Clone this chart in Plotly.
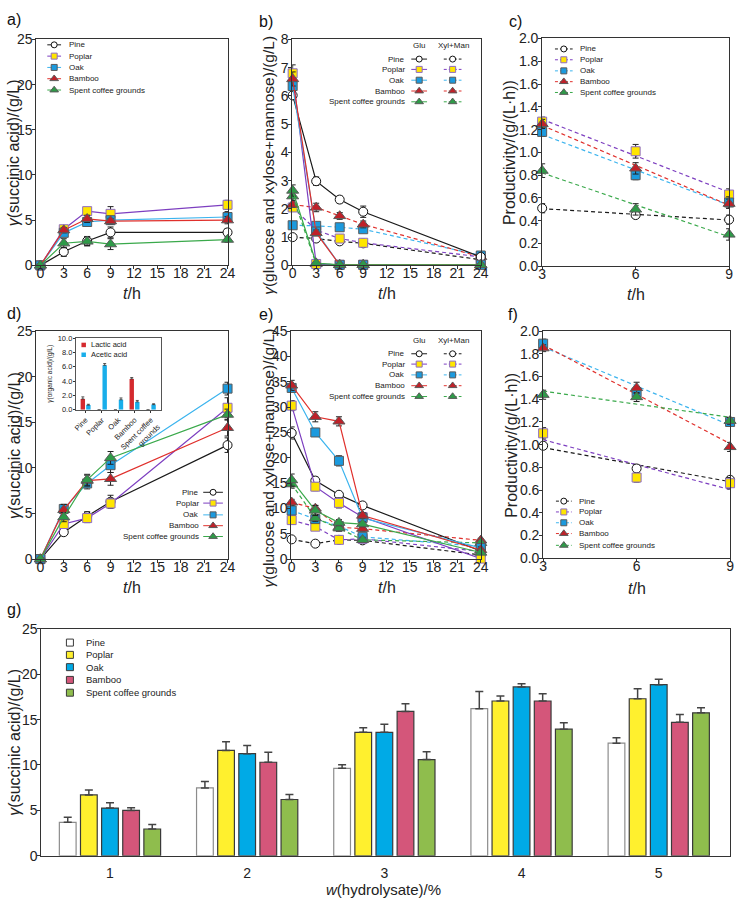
import numpy as np
import plotly.graph_objects as go

W, H = 743, 906
FONT = "Liberation Sans, Arial, Helvetica, sans-serif"

# ---------------- data ----------------
species = ["Pine", "Poplar", "Oak", "Bamboo", "Spent coffee grounds"]
time_h = [0, 3, 6, 9, 24]
time_prod = [3, 6, 9]
conc_pct = [1, 2, 3, 4, 5]
inset_labels = ["Pine", "Poplar", "Oak", "Bamboo", "Spent coffee<br>grounds"]

# a) succinic acid, 1 % hydrolysate
a_succ = [[0, 1.5, 2.7, 3.65, 3.65],
          [0, 4.0, 6.0, 5.7, 6.7],
          [0, 3.6, 4.8, 5.0, 5.35],
          [0, 3.9, 5.15, 4.9, 5.0],
          [0, 2.45, 2.65, 2.35, 2.85]]
a_err = [[0, 0.5, 0.5, 0.6, 0.4],
         [0, 0.35, 0.4, 0.8, 0.5],
         [0, 0.4, 0.5, 0.4, 0.6],
         [0, 0.3, 0.4, 0.3, 0.4],
         [0, 0.5, 0.5, 0.6, 0.3]]

# b) sugars, 1 % hydrolysate
b_glu = [[6.02, 2.98, 2.33, 1.9, 0.3],
         [6.8, 0.05, 0.02, 0.02, 0.02],
         [6.35, 1.2, 0.02, 0.02, 0.02],
         [6.6, 1.15, 0.02, 0.02, 0.02],
         [2.65, 0.08, 0.02, 0.02, 0.02]]
b_glu_err = [[0.15, 0.15, 0.12, 0.2, 0.1],
             [0.3, 0.05, 0.02, 0.02, 0.02],
             [0.2, 0.1, 0.02, 0.02, 0.02],
             [0.25, 0.1, 0.02, 0.02, 0.02],
             [0.2, 0.05, 0.02, 0.02, 0.02]]
b_xyl = [[1.0, 0.95, 0.85, 0.78, 0.2],
         [2.05, 1.25, 0.95, 0.8, 0.3],
         [1.42, 1.4, 1.35, 1.28, 0.35],
         [2.15, 2.05, 1.75, 1.45, 0.3],
         [2.45, 0.05, 0.02, 0.02, 0.02]]
b_xyl_err = [[0.08, 0.08, 0.1, 0.1, 0.05],
             [0.1, 0.1, 0.12, 0.1, 0.1],
             [0.08, 0.1, 0.1, 0.1, 0.1],
             [0.1, 0.15, 0.12, 0.12, 0.1],
             [0.15, 0.03, 0.02, 0.02, 0.02]]

# c) productivity, 1 % hydrolysate
c_prod = [[0.51, 0.45, 0.41],
          [1.27, 1.01, 0.63],
          [1.18, 0.80, 0.56],
          [1.25, 0.86, 0.55],
          [0.84, 0.50, 0.28]]
c_err = [[0.04, 0.03, 0.04],
         [0.04, 0.06, 0.05],
         [0.04, 0.04, 0.05],
         [0.04, 0.05, 0.04],
         [0.06, 0.05, 0.05]]

# d) succinic acid, 5 % hydrolysate
d_succ = [[0, 2.95, 4.7, 6.3, 12.5],
          [0, 3.85, 4.5, 6.1, 16.6],
          [0, 5.5, 8.3, 10.3, 18.7],
          [0, 5.4, 8.6, 8.8, 14.4],
          [0, 4.6, 8.7, 11.1, 15.85]]
d_err = [[0, 0.3, 0.5, 0.7, 0.8],
         [0, 0.4, 0.5, 0.5, 1.1],
         [0, 0.5, 0.6, 0.8, 0.7],
         [0, 0.6, 0.6, 0.7, 0.9],
         [0, 0.5, 0.6, 0.7, 0.6]]

# d) inset: organic acids
inset_lactic = [1.5, 0, 0, 4.3, 0]
inset_lactic_err = [0.3, 0, 0, 0.2, 0]
inset_acetic = [0.65, 6.2, 1.4, 1.1, 0.72]
inset_acetic_err = [0.12, 0.25, 0.25, 0.2, 0.12]

# e) sugars, 5 % hydrolysate
e_glu = [[24.9, 15.5, 12.7, 10.6, 1.6],
         [30.3, 14.3, 11.1, 8.3, 0.1],
         [33.8, 25.0, 19.4, 8.1, 2.2],
         [34.3, 28.1, 27.2, 8.6, 1.8],
         [15.6, 9.6, 7.2, 6.9, 1.3]]
e_glu_err = [[1.2, 0.7, 0.5, 0.6, 0.4],
             [1.0, 0.8, 1.0, 0.6, 0.3],
             [0.8, 0.8, 1.0, 0.6, 0.5],
             [1.0, 1.0, 0.9, 0.6, 0.6],
             [1.2, 1.0, 0.6, 0.5, 0.4]]
e_xyl = [[3.9, 3.05, 3.8, 3.7, 0.8],
         [7.7, 6.4, 3.8, 4.0, 1.5],
         [9.6, 7.9, 6.5, 4.4, 2.5],
         [11.2, 10.0, 6.3, 6.0, 3.7],
         [14.8, 8.1, 6.1, 3.8, 3.2]]
e_xyl_err = [[0.5, 0.4, 0.5, 0.4, 0.3],
             [0.8, 0.6, 0.5, 0.4, 0.3],
             [0.6, 0.6, 0.5, 0.5, 0.4],
             [0.6, 0.6, 0.5, 0.5, 0.4],
             [0.8, 0.7, 0.6, 0.5, 0.4]]

# f) productivity, 5 % hydrolysate
f_prod = [[0.99, 0.79, 0.69],
          [1.10, 0.71, 0.66],
          [1.89, 1.46, 1.20],
          [1.85, 1.50, 0.98],
          [1.44, 1.42, 1.21]]
f_err = [[0.03, 0.03, 0.03],
         [0.05, 0.04, 0.05],
         [0.04, 0.05, 0.04],
         [0.03, 0.05, 0.04],
         [0.04, 0.04, 0.03]]

# g) succinic acid vs hydrolysate loading
g_pine = [3.68, 7.47, 9.63, 16.2, 12.4]
g_poplar = [6.7, 11.6, 13.6, 17.05, 17.3]
g_oak = [5.25, 11.25, 13.6, 18.6, 18.85]
g_bamboo = [5.0, 10.3, 15.9, 17.05, 14.7]
g_scg = [2.95, 6.2, 10.6, 13.95, 15.75]
g_pine_err = [0.55, 0.7, 0.4, 1.9, 0.6]
g_poplar_err = [0.55, 0.95, 0.5, 0.55, 1.1]
g_oak_err = [0.6, 0.9, 0.9, 0.35, 0.6]
g_bamboo_err = [0.3, 1.1, 0.85, 0.8, 0.85]
g_scg_err = [0.5, 0.55, 0.85, 0.7, 0.55]

# ---------------- styles ----------------
LINE_COL = ["#1a1a1a", "#7d3fc0", "#3cb4ee", "#e0302c", "#3aa94b"]
FILL = ["#ffffff", "#ffe600", "#1b9ade", "#bf2129", "#2e9a48"]
EDGE = ["#111111", "#8e6cc4", "#5a5a5a", "#5a5a5a", "#5a5a5a"]
SYMB = ["circle", "square", "square", "triangle-up", "triangle-up"]
BAR_FILL = ["#ffffff", "#fff02e", "#00aae6", "#d4567a", "#8fbd4d"]
BAR_EDGE = ["#8c8c8c", "#3a3a3a", "#3a3a3a", "#3a3a3a", "#3a3a3a"]
DASH = "4px,3px"
ERR_COL = "#222222"


def xdom(p0, p1):
    return [p0 / W, p1 / W]


def ydom(top, bottom):
    return [1 - bottom / H, 1 - top / H]


def axref(n):
    return ("x" if n == 1 else f"x{n}"), ("y" if n == 1 else f"y{n}")


base_axis = dict(showline=True, linecolor="#333333", linewidth=1, mirror=True,
                 ticks="outside", ticklen=3, tickwidth=1, tickcolor="#333333",
                 showgrid=False, zeroline=False, fixedrange=True,
                 tickfont=dict(family=FONT, size=14, color="#222222"))

layout_axes = {}


def add_axes(n, px, py, xr, yr, xkw=None, ykw=None):
    xa, ya = axref(n)
    xname = "xaxis" if n == 1 else f"xaxis{n}"
    yname = "yaxis" if n == 1 else f"yaxis{n}"
    xd = dict(base_axis, domain=xdom(*px), range=xr, anchor=ya, ticklabelstandoff=-8)
    xd.update(xkw or {})
    yd = dict(base_axis, domain=ydom(*py), range=yr, anchor=xa, ticklabelstandoff=-3)
    yd.update(ykw or {})
    layout_axes[xname] = xd
    layout_axes[yname] = yd


time_ticks = dict(tickmode="array", tickvals=[0, 3, 6, 9, 12, 15, 18, 21, 24])
prod_x = dict(tickmode="array", tickvals=[3, 6, 9])
prod_y = dict(tickmode="linear", tick0=0, dtick=0.2, tickformat=".1f")

add_axes(1, (33, 228), (32, 262), [-0.5, 24.1], [0, 25], time_ticks, dict(dtick=5, tick0=0))
add_axes(2, (293, 485), (32, 262), [-0.05, 24.05], [0, 8], time_ticks, dict(dtick=1, tick0=0))
add_axes(3, (547, 737), (31, 263), [3, 9], [0, 2], prod_x, prod_y)
add_axes(4, (33, 228), (329, 561), [-0.5, 24.1], [0, 25], time_ticks, dict(dtick=5, tick0=0))
small = dict(family=FONT, size=7.5, color="#222222")
add_axes(5, (73, 160), (336, 409), [-0.6, 4.65], [0, 10],
         dict(tickmode="array", tickvals=list(range(5)), ticktext=inset_labels,
              tickangle=-45, tickfont=small, ticklen=2, linecolor="#555555",
              ticklabelstandoff=0),
         dict(dtick=2, tick0=0, tickformat=".1f", tickfont=small, ticklen=2,
              linecolor="#555555", ticklabelstandoff=-1))
add_axes(6, (292, 485), (329, 561), [-0.05, 24.05], [0, 45], time_ticks, dict(dtick=5, tick0=0))
add_axes(7, (548, 738), (329, 560), [3, 9], [0, 2], prod_x, prod_y)
add_axes(8, (38, 738), (632, 863), [0.5, 5.52], [0, 25],
         dict(tickmode="array", tickvals=conc_pct, ticks="", ticklabelstandoff=4),
         dict(dtick=5, tick0=0))
# overlay axis in pixel units for legends and labels
layout_axes["xaxis9"] = dict(domain=[0, 1], range=[0, W], visible=False, fixedrange=True, anchor="y9")
layout_axes["yaxis9"] = dict(domain=[0, 1], range=[H, 0], visible=False, fixedrange=True, anchor="x9")

traces = []


def marker(i, size):
    extra = 1.5 if SYMB[i].startswith("triangle") else 0
    return dict(symbol=SYMB[i], size=size + extra, color=FILL[i],
                line=dict(color=EDGE[i], width=1))


def err(arr):
    return dict(type="data", array=arr, color=ERR_COL, thickness=1, width=3)


def time_series(n, ys, errs, dash=None):
    xa, ya = axref(n)
    for i in range(len(species)):
        traces.append(go.Scatter(
            x=time_h, y=ys[i], mode="lines+markers",
            line=dict(color=LINE_COL[i], width=1.2, dash=dash),
            marker=marker(i, 9), error_y=err(errs[i]), cliponaxis=False,
            xaxis=xa, yaxis=ya, showlegend=False, name=species[i]))


def prod_series(n, ys, errs):
    xa, ya = axref(n)
    for i in range(len(species)):
        k, b0 = np.polyfit(time_prod, ys[i], 1)
        xs = [time_prod[0], time_prod[-1]]
        traces.append(go.Scatter(
            x=xs, y=[k * v + b0 for v in xs], mode="lines",
            line=dict(color=LINE_COL[i], width=1.2, dash=DASH),
            cliponaxis=False, xaxis=xa, yaxis=ya, showlegend=False, hoverinfo="skip"))
    for i in range(len(species)):
        traces.append(go.Scatter(
            x=time_prod, y=ys[i], mode="markers", marker=marker(i, 9),
            error_y=err(errs[i]), cliponaxis=False,
            xaxis=xa, yaxis=ya, showlegend=False, name=species[i]))


time_series(1, a_succ, a_err)
time_series(2, b_xyl, b_xyl_err, dash=DASH)
time_series(2, b_glu, b_glu_err)
prod_series(3, c_prod, c_err)
time_series(4, d_succ, d_err)
time_series(6, e_xyl, e_xyl_err, dash=DASH)
time_series(6, e_glu, e_glu_err)
prod_series(7, f_prod, f_err)

# inset bars
BW_IN = 0.27
for vals, errs, col, off in [(inset_lactic, inset_lactic_err, "#d42a2e", -0.17),
                             (inset_acetic, inset_acetic_err, "#19aeea", 0.17)]:
    traces.append(go.Bar(
        x=list(range(5)), y=vals, width=BW_IN, offset=off - BW_IN / 2,
        marker=dict(color=col, line=dict(width=0)),
        error_y=dict(type="data", array=errs, arrayminus=[0] * 5, symmetric=False,
                     color="#333333", thickness=0.8, width=1.5),
        xaxis="x5", yaxis="y5", showlegend=False))

# g bars
g_vals = [g_pine, g_poplar, g_oak, g_bamboo, g_scg]
g_errs = [g_pine_err, g_poplar_err, g_oak_err, g_bamboo_err, g_scg_err]
SLOT, BW = 0.154, 0.122
for i in range(5):
    centre = (i - 2) * SLOT
    traces.append(go.Bar(
        x=conc_pct, y=g_vals[i], width=BW, offset=centre - BW / 2,
        marker=dict(color=BAR_FILL[i], line=dict(color=BAR_EDGE[i], width=1.2)),
        error_y=dict(type="data", array=g_errs[i], arrayminus=[0] * 5, symmetric=False,
                     color="#444444", thickness=1.5, width=4),
        xaxis="x8", yaxis="y8", showlegend=False, name=species[i]))

# ---------------- legends & text (pixel overlay) ----------------
ann = []
LEG = 8


def text(x, y, s, size=LEG, anchor="left", angle=0, color="#222222"):
    ann.append(dict(x=x, y=y, xref="x9", yref="y9", text=s, showarrow=False,
                    xanchor=anchor, yanchor="middle", textangle=angle,
                    font=dict(family=FONT, size=size, color=color)))


def glyph(cx, y, i, half, dash=None, msize=6):
    traces.append(go.Scatter(x=[cx - half, cx + half], y=[y, y], mode="lines",
                             line=dict(color=LINE_COL[i], width=1, dash=dash),
                             xaxis="x9", yaxis="y9", showlegend=False, hoverinfo="skip"))
    traces.append(go.Scatter(x=[cx], y=[y], mode="markers", marker=marker(i, msize),
                             xaxis="x9", yaxis="y9", showlegend=False, hoverinfo="skip"))


# a) legend
for i, yy in enumerate([37.5, 49, 60.5, 72, 83.5]):
    glyph(51, yy, i, 7)
    text(64, yy, species[i])
# c) legend
for i, yy in enumerate([41.7, 52.7, 64, 75, 86]):
    glyph(569, yy, i, 9, dash="3px,2px")
    text(583, yy, species[i])
# f) legend
for i, yy in enumerate([502, 513, 524, 535, 547]):
    glyph(569, yy, i, 8, dash="3px,2px")
    text(582, yy, species[i])
# b) and e) legends
for top in (0, 300):
    text(422, 38 + top, "Glu", anchor="center")
    text(457, 38 + top, "Xyl+Man", anchor="center")
    for i, yy in enumerate([52, 62.5, 73.5, 84.5, 95.5]):
        glyph(422, yy + top, i, 8)
        glyph(456, yy + top, i, 9, dash="3px,2px")
        text(410, yy + top, species[i], anchor="right")
# d) legend
for i, yy in enumerate([493, 504, 516, 527, 538]):
    glyph(212.5, yy, i, 10)
    text(200, yy, species[i], anchor="right")
# g) legend
for i, yy in enumerate([646, 658.5, 671, 684, 697]):
    traces.append(go.Scatter(x=[67], y=[yy], mode="markers",
                             marker=dict(symbol="square", size=7, color=BAR_FILL[i],
                                         line=dict(color="#3a3a3a", width=1)),
                             xaxis="x9", yaxis="y9", showlegend=False, hoverinfo="skip"))
    text(81, yy, species[i], size=9.5)
# inset legend
for yy, col, s in [(343, "#d42a2e", "Lactic acid"), (353, "#19aeea", "Acetic acid")]:
    traces.append(go.Scatter(x=[81], y=[yy], mode="markers",
                             marker=dict(symbol="square", size=4.5, color=col, line=dict(width=0)),
                             xaxis="x9", yaxis="y9", showlegend=False, hoverinfo="skip"))
    text(86, yy, s, size=7.5)

# panel labels
for lbl, x, y in [("a)", 1, 12), ("b)", 257, 14), ("c)", 511, 14),
                  ("d)", 1, 311), ("e)", 257, 312), ("f)", 510, 312), ("g)", 1, 612)]:
    text(x, y, lbl, size=16, color="#111111")

# axis titles
Y_SUCC = "<i>γ</i>(succinic acid)/(g/L)"
Y_SUG = "<i>γ</i>(glucose and xylose+mannose)/(g/L)"
Y_PROD = "Productivity/(g/(L·h))"
X_T = "<i>t</i>/h"
for s, x, y, fs in [(Y_SUCC, 10, 147, 16), (Y_SUG, 269, 160, 15.5), (Y_PROD, 514, 147, 16),
                    (Y_SUCC, 10, 445, 16), (Y_SUG, 269, 458, 15.5), (Y_PROD, 515, 445, 16),
                    (Y_SUCC, 11, 747, 16)]:
    text(x, y, s, size=fs, anchor="center", angle=-90)
for x, y in [(130, 291), (389, 291), (642, 292), (130, 590), (389, 590), (643, 591)]:
    text(x, y, X_T, size=16, anchor="center")
text(386, 897, "<i>w</i>(hydrolysate)/%", size=15, anchor="center")
text(47, 372, "<i>γ</i>(organic acid)/(g/L)", size=6.5, anchor="center", angle=-90)

fig = go.Figure(data=traces)
fig.update_layout(width=W, height=H, margin=dict(l=0, r=0, t=0, b=0),
                  paper_bgcolor="white", plot_bgcolor="rgba(0,0,0,0)",
                  barmode="overlay", showlegend=False, annotations=ann,
                  font=dict(family=FONT, color="#222222"), **layout_axes)
fig.write_html("out.html")
